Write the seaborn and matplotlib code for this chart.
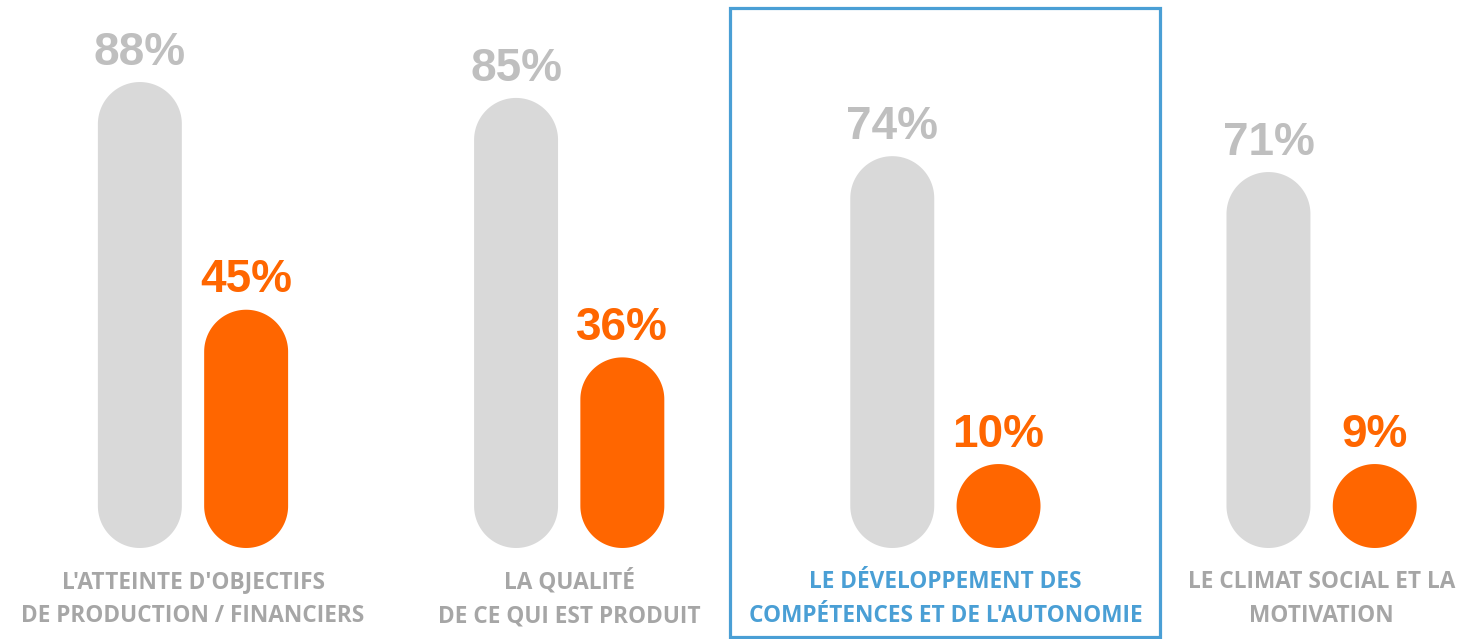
import numpy as np
import pandas as pd
import matplotlib
matplotlib.use("Agg")
import matplotlib.pyplot as plt
import matplotlib.transforms as mtransforms
from matplotlib.patches import Polygon, Rectangle
import seaborn as sns

# ---------------- data ----------------
categories = [
    "L'ATTEINTE D'OBJECTIFS\nDE PRODUCTION / FINANCIERS",
    "LA QUALITÉ\nDE CE QUI EST PRODUIT",
    "LE DÉVELOPPEMENT DES\nCOMPÉTENCES ET DE L'AUTONOMIE",
    "LE CLIMAT SOCIAL ET LA\nMOTIVATION",
]
series_names = ["Série 1", "Série 2"]
gray_values = [88, 85, 74, 71]
orange_values = [45, 36, 10, 9]
highlight_index = 2

# ---------------- style ----------------
GRAY_BAR = "#d9d9d9"
GRAY_TXT = "#bfbfbf"
ORANGE = "#ff6600"
LABEL_GRAY = "#a6a6a6"
BLUE = "#4a9fd5"

sns.set_theme(style="white")
plt.rcParams["font.family"] = ["Liberation Sans", "DejaVu Sans"]

df = pd.DataFrame({
    "categorie": categories * 2,
    "serie": [series_names[0]] * len(categories) + [series_names[1]] * len(categories),
    "valeur": gray_values + orange_values,
})

W, H, DPI = 1458, 639, 100
fig = plt.figure(figsize=(W / DPI, H / DPI), dpi=DPI)
fig.patch.set_facecolor("white")
ax = fig.add_axes([0, 0, 1, 1])

sns.barplot(data=df, x="categorie", y="valeur", hue="serie",
            hue_order=series_names, order=categories,
            palette=[GRAY_BAR, ORANGE], saturation=1,
            width=0.565, gap=0.21, errorbar=None, legend=False, ax=ax)

# pixel layout
x0_px, ppx = 193.0, 376.2
base_px, ppy = 91.0, 5.295
ax.set_xlim(-x0_px / ppx, (W - x0_px) / ppx)
ax.set_ylim(-base_px / ppy, (H - base_px) / ppy)
ax.axis("off")

# replace bars by pills
text_colors = [GRAY_TXT, ORANGE]
for cont, tcol in zip(ax.containers, text_colors):
    for bar in cont:
        x = bar.get_x(); w = bar.get_width(); h = bar.get_height()
        bar.set_visible(False)
        rx = w / 2
        ry = rx * ppx / ppy
        cx = x + rx
        top = max(h, 2 * ry)
        t1 = np.linspace(0, np.pi, 80)
        t2 = np.linspace(np.pi, 2 * np.pi, 80)
        xs = np.concatenate([cx + rx * np.cos(t1), cx + rx * np.cos(t2)])
        ys = np.concatenate([top - ry + ry * np.sin(t1), ry + ry * np.sin(t2)])
        ax.add_patch(Polygon(np.column_stack([xs, ys]), closed=True,
                             facecolor=bar.get_facecolor(), edgecolor="none"))
        ax.annotate(f"{h:.0f}%", (cx, top), xytext=(0, 12.5),
                    textcoords="offset points", ha="center", va="baseline",
                    fontsize=33, fontweight="bold", color=tcol,
                    family=["Liberation Sans", "DejaVu Sans"])

# category labels
for i, cat in enumerate(categories):
    col = BLUE if i == highlight_index else LABEL_GRAY
    for j, line in enumerate(cat.split("\n")):
        ax.annotate(line, (i, 0), xytext=(0, -(40 + 34 * j) * 72 / DPI),
                    textcoords="offset points", ha="center", va="baseline",
                    fontsize=16.3, fontweight="bold", color=col,
                    family=["Open Sans", "DejaVu Sans"])

# highlight frame
trans = mtransforms.blended_transform_factory(ax.transData, ax.transAxes)
half = 215 / ppx
ax.add_patch(Rectangle((highlight_index - half, 2 / H), 2 * half, 629 / H,
                       transform=trans, fill=False, edgecolor=BLUE,
                       linewidth=2.3, clip_on=False))

fig.savefig("out.png", dpi=DPI, facecolor="white")
